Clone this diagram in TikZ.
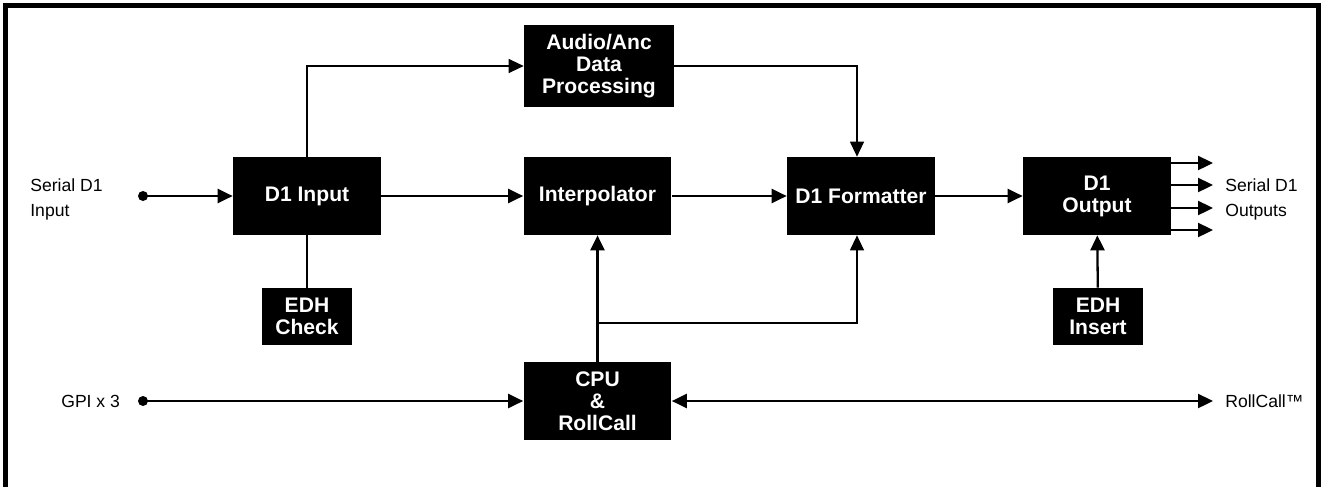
\documentclass[tikz,border=0pt]{standalone}
\usepackage{fontspec}
\setmainfont{Liberation Sans}
\usetikzlibrary{arrows.meta}
\begin{document}
\begin{tikzpicture}[x=0.02cm,y=-0.02cm,
  >={Triangle[length=0.3cm,width=0.28cm]},
  blk/.style={fill=black,text=white,font=\fontsize{12}{12.5}\selectfont\bfseries,align=center,inner sep=0pt,minimum width=2.96cm,minimum height=1.56cm},
  smallblk/.style={blk,minimum width=1.8cm,minimum height=1.14cm},
  lbl/.style={font=\fontsize{10}{14}\selectfont,align=left,inner sep=0pt},
  bus/.style={line width=1.3pt},
  wire/.style={line width=0.7pt}]
\useasboundingbox (0,0) rectangle (1324,487);
\draw [line width=2.8pt] (5.5,487) -- (5.5,5.5) -- (1318.5,5.5) -- (1318.5,487);
% blocks
\node [blk] (din) at (307,196) {D1 Input};
\node [blk,minimum height=1.66cm,minimum width=3cm] (audio) at (599,66) {Audio/Anc\\Data\\Processing};
\node [blk] (interp) at (597.5,196) {Interpolator};
\node [blk] (fmt) at (861,196) {D1 Formatter};
\node [blk] (dout) at (1097,196) {D1\\Output};
\node [smallblk] (edhc) at (307,316.5) {EDH\\Check};
\node [smallblk] (edhi) at (1098,316.5) {EDH\\Insert};
\node [blk] (cpu) at (597.5,401) {CPU\\\&\\RollCall};
% outside labels
\node [lbl,anchor=west] (sdi) at (30,199.5) {Serial D1\\Input};
\node [lbl,anchor=west] (gpi) at (61,401) {GPI x 3};
\node [lbl,anchor=west] (sdo) at (1225,199.5) {Serial D1\\Outputs};
\node [lbl,anchor=west] (rc) at (1225,401) {RollCall™};
\fill (143,196) circle [radius=0.1cm] coordinate (inpt);
\fill (143,401) circle [radius=0.1cm] coordinate (gpipt);
% connections
\draw [bus,->] (inpt) -- (din);
\draw [bus,->] (din) -- (interp);
\draw [bus,->] (interp) -- (fmt);
\draw [bus,->] (fmt) -- (dout);
\draw [bus] (din) -- (edhc);
\draw [bus,->] (edhi) -- (dout);
\draw [wire,->] (din.north) |- (audio.west);
\draw [wire,->] (audio.east) -| ([xshift=-0.08cm]fmt.north);
\draw [bus,->] (cpu) -- (interp);
\coordinate (br) at (597.5,323);
\draw [wire,->] (br) -| ([xshift=-0.08cm]fmt.south);
\draw [bus,->] (gpipt) -- (cpu);
\coordinate (rcend) at (1213,401);
\draw [bus,<->] (cpu) -- (rcend);
\foreach \y/\n in {163/a,185/b,208/c,230/d}
  \draw [bus,->] (dout.east |- 0,\y) -- (1213,\y) coordinate (out\n);
\end{tikzpicture}
\end{document}
